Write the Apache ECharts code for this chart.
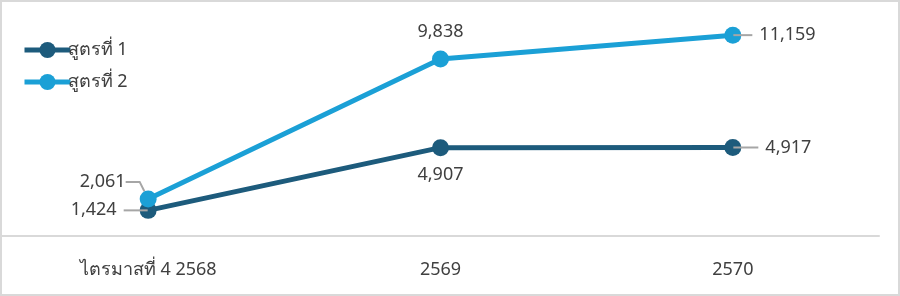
<!DOCTYPE html>
<html>
<head>
<meta charset="utf-8">
<script src="https://cdn.jsdelivr.net/npm/echarts@6/dist/echarts.min.js"></script>
<style>
html,body{margin:0;padding:0;background:#fff;}
#frame{position:absolute;left:0;top:0;width:896px;height:292px;border:2px solid #d9d9d9;}
#chart{width:896px;height:292px;}
</style>
</head>
<body>
<div id="frame"><div id="chart"></div></div>
<script>
const categories = ['ไตรมาสที่ 4 2568', '2569', '2570'];
const series1Name = 'สูตรที่ 1';
const series2Name = 'สูตรที่ 2';
const series1Values = [1424, 4907, 4917];
const series2Values = [2061, 9838, 11159];

const FONT = 'Tahoma, "Noto Sans", "DejaVu Sans", sans-serif';
const C1 = '#1d5b7c';
const C2 = '#1ba0d6';
const TXT = '#404040';
const GUIDE = '#a6a6a6';
const FS = 18;

function fmt(v){ return v.toLocaleString('en-US'); }
const rich = {
  v:{fontSize:FS, color:TXT, fontFamily:FONT},
  ln:{width:24, height:2, backgroundColor:GUIDE},
  ln2:{width:19, height:2, backgroundColor:GUIDE},
  ln3:{width:25, height:2, backgroundColor:GUIDE},
  sp:{width:7, height:2}
};

const chart = echarts.init(document.getElementById('chart'));

const s1Data = series1Values.map((v,i)=>{
  const d = {value:v};
  if(i===0){ d.label={position:'left', distance:-8, formatter:p=>'{v|'+fmt(p.value)+'}{sp|}{ln|}'}; }
  else if(i===1){ d.label={position:'bottom', distance:10}; }
  else { d.label={position:'right', distance:-8, formatter:p=>'{ln3|}{sp|}{v|'+fmt(p.value)+'}'}; }
  return d;
});
const s2Data = series2Values.map((v,i)=>{
  const d = {value:v};
  if(i===0){
    d.label={position:'left', distance:14};
    d.labelLine={show:true, length2:14, lineStyle:{color:GUIDE, width:2}};
  }
  else if(i===1){ d.label={position:'top', distance:10}; }
  else { d.label={position:'right', distance:-8, formatter:p=>'{ln2|}{sp|}{v|'+fmt(p.value)+'}'}; }
  return d;
});

chart.setOption({
  animation:false,
  textStyle:{fontFamily:FONT},
  legend:{
    orient:'vertical', left:15, top:34, itemGap:14,
    itemWidth:46, itemHeight:20,
    lineStyle:{width:5},
    textStyle:{fontSize:FS, color:TXT, fontFamily:FONT, padding:[0,0,0,-8]},
    data:[series1Name, series2Name]
  },
  grid:{left:0, right:19, top:18, bottom:58, containLabel:false},
  xAxis:{
    type:'category', data:categories, boundaryGap:true,
    axisLine:{lineStyle:{color:'#d9d9d9', width:2}},
    axisTick:{show:false},
    axisLabel:{fontSize:FS, color:TXT, fontFamily:FONT, margin:25}
  },
  yAxis:{
    type:'value', min:0, max:12000, show:false, splitLine:{show:false}
  },
  series:[
    {name:series1Name, type:'line', data:s1Data, symbol:'circle', symbolSize:17,
     lineStyle:{width:5, color:C1}, itemStyle:{color:C1},
     label:{show:true, fontSize:FS, color:TXT, fontFamily:FONT, rich:rich, formatter:p=>fmt(p.value)}},
    {name:series2Name, type:'line', data:s2Data, symbol:'circle', symbolSize:17,
     lineStyle:{width:5, color:C2}, itemStyle:{color:C2},
     labelLayout:function(params){ return params.dataIndex===0 ? {dy:-17} : {}; },
     label:{show:true, fontSize:FS, color:TXT, fontFamily:FONT, rich:rich, formatter:p=>fmt(p.value)}}
  ]
});
</script>
</body>
</html>
